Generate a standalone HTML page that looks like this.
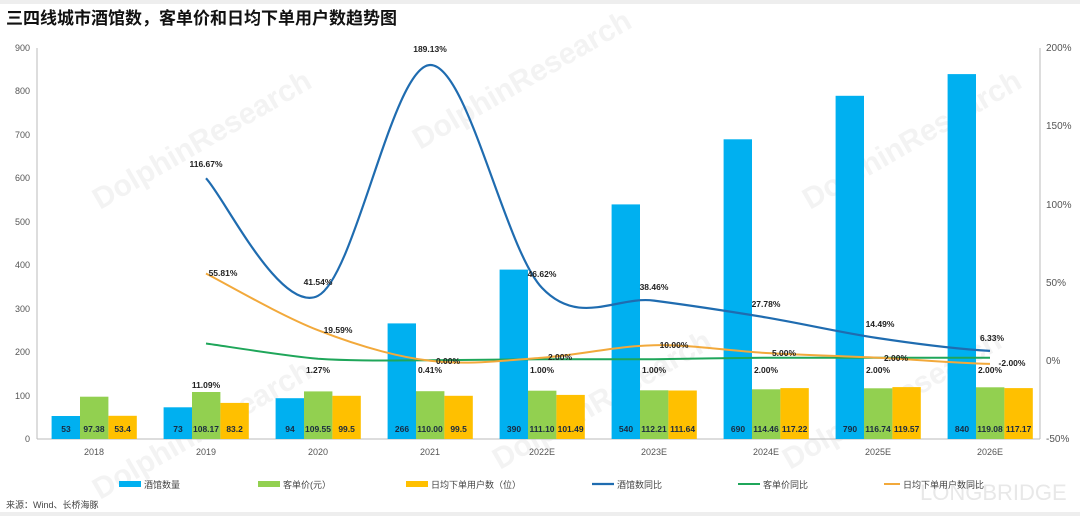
<!DOCTYPE html>
<html><head><meta charset="utf-8"><style>
html,body{margin:0;padding:0;background:#fff;}
body{width:1080px;height:516px;overflow:hidden;position:relative;font-family:"Liberation Sans","Noto Sans CJK SC",sans-serif;}
</style></head><body>
<svg width="1080" height="516" viewBox="0 0 1080 516" xmlns="http://www.w3.org/2000/svg" font-family="Liberation Sans, Noto Sans CJK SC, sans-serif">
<rect x="0" y="0" width="1080" height="516" fill="#fff"/>
<rect x="0" y="0" width="1080" height="4" fill="#eee"/>
<rect x="0" y="512" width="1080" height="4" fill="#eee"/>
<text x="6" y="24" font-size="17" font-weight="bold" fill="#111">三四线城市酒馆数，客单价和日均下单用户数趋势图</text>
<!-- watermarks -->
<g fill="#f3f3f3" font-size="30" font-weight="bold">
<text x="100" y="210" transform="rotate(-30 100 210)">DolphinResearch</text>
<text x="420" y="150" transform="rotate(-30 420 150)">DolphinResearch</text>
<text x="810" y="210" transform="rotate(-30 810 210)">DolphinResearch</text>
<text x="100" y="500" transform="rotate(-30 100 500)">DolphinResearch</text>
<text x="500" y="470" transform="rotate(-30 500 470)">DolphinResearch</text>
<text x="790" y="470" transform="rotate(-30 790 470)">DolphinResearch</text>
</g>
<text x="920" y="500" font-size="22" fill="#e8e8e8">LONGBRIDGE</text>
<!-- axes -->
<g stroke="#bbb" stroke-width="1">
<line x1="37" y1="48" x2="37" y2="439"/>
<line x1="37" y1="439" x2="1040" y2="439"/>
<line x1="1040" y1="48" x2="1040" y2="439"/>
</g>
<g font-size="9" fill="#555" text-anchor="end">
<text x="30" y="51">900</text><text x="30" y="94">800</text><text x="30" y="138">700</text>
<text x="30" y="181">600</text><text x="30" y="225">500</text><text x="30" y="268">400</text>
<text x="30" y="312">300</text><text x="30" y="355">200</text><text x="30" y="399">100</text>
<text x="30" y="442">0</text>
</g>
<g font-size="10" fill="#555">
<text x="1046" y="51">200%</text><text x="1046" y="129">150%</text><text x="1046" y="208">100%</text>
<text x="1046" y="286">50%</text><text x="1046" y="364">0%</text><text x="1046" y="442">-50%</text>
</g>
<g font-size="9" fill="#555" text-anchor="middle">
<text x="94" y="455">2018</text><text x="206" y="455">2019</text><text x="318" y="455">2020</text>
<text x="430" y="455">2021</text><text x="542" y="455">2022E</text><text x="654" y="455">2023E</text>
<text x="766" y="455">2024E</text><text x="878" y="455">2025E</text><text x="990" y="455">2026E</text>
</g>
<g>
<rect x="51.6" y="416" width="28.4" height="23" fill="#00b0f0"/><rect x="80" y="396.7" width="28.4" height="42.3" fill="#92d050"/><rect x="108.4" y="415.8" width="28.4" height="23.2" fill="#ffc000"/>
<rect x="163.6" y="407.3" width="28.4" height="31.7" fill="#00b0f0"/><rect x="192" y="392" width="28.4" height="47" fill="#92d050"/><rect x="220.4" y="402.9" width="28.4" height="36.1" fill="#ffc000"/>
<rect x="275.6" y="398.2" width="28.4" height="40.8" fill="#00b0f0"/><rect x="304" y="391.4" width="28.4" height="47.6" fill="#92d050"/><rect x="332.4" y="395.8" width="28.4" height="43.2" fill="#ffc000"/>
<rect x="387.6" y="323.4" width="28.4" height="115.6" fill="#00b0f0"/><rect x="416" y="391.2" width="28.4" height="47.8" fill="#92d050"/><rect x="444.4" y="395.8" width="28.4" height="43.2" fill="#ffc000"/>
<rect x="499.6" y="269.6" width="28.4" height="169.4" fill="#00b0f0"/><rect x="528" y="390.7" width="28.4" height="48.3" fill="#92d050"/><rect x="556.4" y="394.9" width="28.4" height="44.1" fill="#ffc000"/>
<rect x="611.6" y="204.4" width="28.4" height="234.6" fill="#00b0f0"/><rect x="640" y="390.3" width="28.4" height="48.7" fill="#92d050"/><rect x="668.4" y="390.5" width="28.4" height="48.5" fill="#ffc000"/>
<rect x="723.6" y="139.3" width="28.4" height="299.7" fill="#00b0f0"/><rect x="752" y="389.3" width="28.4" height="49.7" fill="#92d050"/><rect x="780.4" y="388.1" width="28.4" height="50.9" fill="#ffc000"/>
<rect x="835.6" y="95.8" width="28.4" height="343.2" fill="#00b0f0"/><rect x="864" y="388.3" width="28.4" height="50.7" fill="#92d050"/><rect x="892.4" y="387.1" width="28.4" height="51.9" fill="#ffc000"/>
<rect x="947.6" y="74.1" width="28.4" height="364.9" fill="#00b0f0"/><rect x="976" y="387.3" width="28.4" height="51.7" fill="#92d050"/><rect x="1004.4" y="388.1" width="28.4" height="50.9" fill="#ffc000"/>
</g>
<g font-size="8.5" font-weight="bold" fill="#1a2a40" text-anchor="middle">
<text x="66" y="432">53</text><text x="94" y="432">97.38</text><text x="122.6" y="432">53.4</text>
<text x="178" y="432">73</text><text x="206" y="432">108.17</text><text x="234.6" y="432">83.2</text>
<text x="290" y="432">94</text><text x="318" y="432">109.55</text><text x="346.6" y="432">99.5</text>
<text x="402" y="432">266</text><text x="430" y="432">110.00</text><text x="458.6" y="432">99.5</text>
<text x="514" y="432">390</text><text x="542" y="432">111.10</text><text x="570.6" y="432">101.49</text>
<text x="626" y="432">540</text><text x="654" y="432">112.21</text><text x="682.6" y="432">111.64</text>
<text x="738" y="432">690</text><text x="766" y="432">114.46</text><text x="794.6" y="432">117.22</text>
<text x="850" y="432">790</text><text x="878" y="432">116.74</text><text x="906.6" y="432">119.57</text>
<text x="962" y="432">840</text><text x="990" y="432">119.08</text><text x="1018.6" y="432">117.17</text>
</g>
<path d="M206,178.3 C224.7,197.9 280.7,314.7 318,295.8 C355.3,276.9 392.7,66.3 430,65 C467.3,63.7 504.7,248.6 542,287.9 C579.3,327.2 616.7,295.7 654,300.6 C691.3,305.5 728.7,311.2 766,317.4 C803.3,323.7 840.7,332.5 878,338.1 C915.3,343.7 952.7,348.8 990,350.9" fill="none" stroke="#1f6cb0" stroke-width="2.2"/>
<path d="M206,343.5 C224.7,346 280.7,355.3 318,358.8 C355.3,361.3 392.7,360.3 430,360.2 C467.3,360 504.7,359.4 542,359.2 C579.3,359.2 616.7,359.5 654,359.2 C691.3,358.9 728.7,357.9 766,357.7 L990,357.7" fill="none" stroke="#1fa65a" stroke-width="2"/>
<path d="M206,273.5 C224.7,283 280.7,315.7 318,330.2 C355.3,344.8 392.7,356.2 430,360.8 C467.3,365.4 504.7,360.3 542,357.7 C579.3,355.1 616.7,346 654,345.2 C691.3,344.4 728.7,350.9 766,353 C803.3,355.1 840.7,355.9 878,357.7 C915.3,359.5 952.7,362.9 990,363.9" fill="none" stroke="#f2a93b" stroke-width="2"/>
<g font-size="8.5" font-weight="bold" fill="#222" text-anchor="middle">
<text x="206" y="167">116.67%</text><text x="318" y="285">41.54%</text><text x="430" y="52">189.13%</text>
<text x="542" y="277">46.62%</text><text x="654" y="290">38.46%</text><text x="766" y="307">27.78%</text>
<text x="880" y="327">14.49%</text><text x="992" y="341">6.33%</text>
<text x="223" y="276">55.81%</text><text x="338" y="333">19.59%</text><text x="448" y="364">0.00%</text>
<text x="560" y="360">2.00%</text><text x="674" y="348">10.00%</text><text x="784" y="356">5.00%</text>
<text x="896" y="361">2.00%</text><text x="1012" y="366">-2.00%</text>
<text x="206" y="388">11.09%</text><text x="318" y="373">1.27%</text><text x="430" y="373">0.41%</text>
<text x="542" y="373">1.00%</text><text x="654" y="373">1.00%</text><text x="766" y="373">2.00%</text>
<text x="878" y="373">2.00%</text><text x="990" y="373">2.00%</text>
</g>
<g font-size="9" fill="#444">
<rect x="119" y="481" width="22" height="6" fill="#00b0f0"/><text x="144" y="488">酒馆数量</text>
<rect x="258" y="481" width="22" height="6" fill="#92d050"/><text x="283" y="488">客单价(元）</text>
<rect x="406" y="481" width="22" height="6" fill="#ffc000"/><text x="431" y="488">日均下单用户数（位）</text>
<line x1="592" y1="484" x2="614" y2="484" stroke="#1f6cb0" stroke-width="2.2"/><text x="617" y="488">酒馆数同比</text>
<line x1="738" y1="484" x2="760" y2="484" stroke="#1fa65a" stroke-width="2"/><text x="763" y="488">客单价同比</text>
<line x1="884" y1="484" x2="900" y2="484" stroke="#f2a93b" stroke-width="2"/><text x="903" y="488">日均下单用户数同比</text>
</g>
<text x="6" y="508" font-size="9" fill="#444">来源：Wind、长桥海豚</text>
</svg>
</body></html>
